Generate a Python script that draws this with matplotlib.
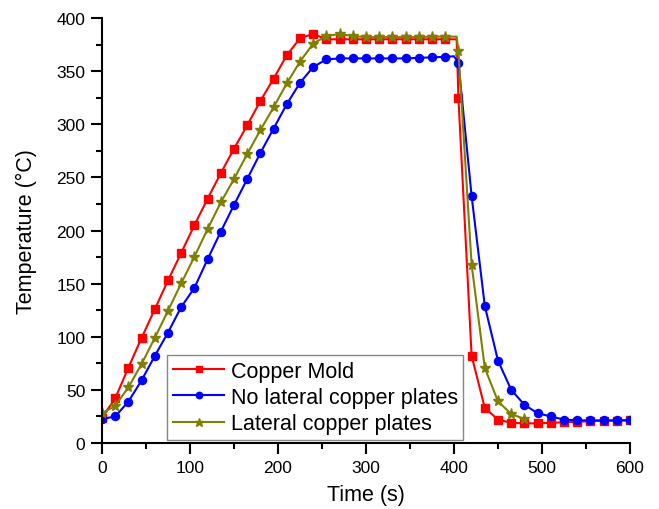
import matplotlib
matplotlib.use('Agg')
import matplotlib.pyplot as plt
import numpy as np

plt.rcParams['font.family'] = ['Liberation Sans', 'DejaVu Sans']

# sample times (s), one marker every 15 s
time_s = list(range(0, 601, 15))

copper_mold = [24, 42, 71, 99, 126, 153, 179, 205, 230, 254, 277, 299, 322, 343,
               365, 381, 385, 380, 380, 380, 380, 380, 380, 380, 380, 380, 380,
               325, 82, 33, 22, 19, 18.5, 18.5, 19, 19.5, 20, 20.5, 21, 21, 21.5]

no_lateral = [22.6, 25, 39, 59, 82, 104, 128, 146, 173, 199, 224, 248.5, 273, 296,
              319, 339, 354, 361, 362, 362, 362, 362, 362, 362, 362.5, 363, 363.5,
              358, 232.5, 129, 77.5, 50, 36, 28, 25, 22, 21.3, 21.3, 21.3, 21.3, 21.3]

lateral = [28, 35, 52.4, 74.4, 99, 124.5, 150.3, 175.3, 201.4, 226.5, 248.5, 272,
           294.6, 316, 338.5, 359, 376, 383, 385, 383, 382, 382, 382, 382, 382,
           382.5, 382.5, 369, 168, 70.6, 39.2, 27.3, 22.6]

# end of the hold, where the curves leave the plateau (no marker there)
hold_end = {'red': (403, 380), 'blue': (400, 364), 'olive': (403, 382.5)}

series = [
    ('Copper Mold', copper_mold, 'red', 's', 5.2),
    ('No lateral copper plates', no_lateral, 'blue', 'o', 5.8),
    ('Lateral copper plates', lateral, 'olive', '*', 8),
]

fig = plt.figure(figsize=(6.59, 5.10), dpi=100)
ax = fig.add_axes([0.1548, 0.1294, 0.8012, 0.8333])

for label, vals, color, marker, ms in series:
    t = list(time_s[:len(vals)])
    v = list(vals)
    ct, cv = hold_end[color]
    idx = t.index(405)
    t.insert(idx, ct)
    v.insert(idx, cv)
    marks = [i for i in range(len(t)) if i != idx]
    ax.plot(t, v, color=color, lw=1.5, marker=marker, ms=ms,
            markevery=marks, label=label)

ax.set_xlim(0, 600)
ax.set_ylim(0, 400)
ax.set_xticks(np.arange(0, 601, 100))
ax.set_xticks(np.arange(50, 600, 100), minor=True)
ax.set_yticks(np.arange(0, 401, 50))
ax.set_yticks(np.arange(25, 400, 50), minor=True)

for s in ['top', 'right']:
    ax.spines[s].set_visible(False)
for s in ['left', 'bottom']:
    ax.spines[s].set_linewidth(1.5)

ax.tick_params(which='major', direction='out', length=8, width=1.5,
               labelsize=12.5, pad=4)
ax.tick_params(which='minor', direction='out', length=4.5, width=1.5)

ax.set_xlabel('Time (s)', fontsize=15.5, labelpad=7)
ax.set_ylabel('Temperature (\u00b0C)', fontsize=15.5, labelpad=14)

leg = ax.legend(loc='lower left', bbox_to_anchor=(0.1237, 0.0078),
                borderaxespad=0, fontsize=15.5, handlelength=2.4,
                handletextpad=0.3, labelspacing=0.25, borderpad=0.25,
                fancybox=False, framealpha=1, markerscale=0.8)
leg.get_frame().set_edgecolor('#888888')
leg.get_frame().set_linewidth(1.0)

fig.savefig('out.png', dpi=100)
